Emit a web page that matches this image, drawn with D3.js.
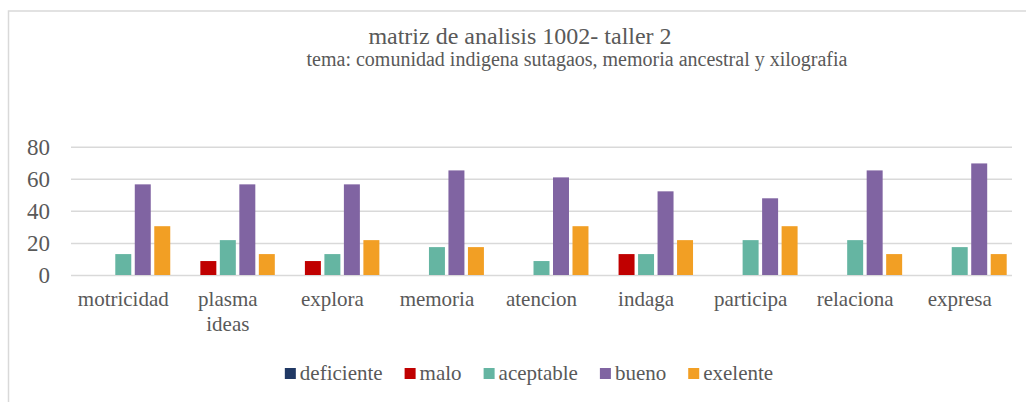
<!DOCTYPE html>
<html>
<head>
<meta charset="utf-8">
<script src="https://cdn.jsdelivr.net/npm/d3@7"></script>
<style>
  html, body { margin: 0; padding: 0; background: #fff; }
  svg { display: block; }
</style>
</head>
<body>
<svg id="chart" width="1026" height="402"></svg>
<script>
const titleLines = ["matriz de analisis 1002- taller 2", "tema: comunidad indigena sutagaos, memoria ancestral y xilografia"];
const categories = ["motricidad", "plasma ideas", "explora", "memoria", "atencion", "indaga", "participa", "relaciona", "expresa"];
const seriesNames = ["deficiente", "malo", "aceptable", "bueno", "exelente"];
const deficiente = [0, 0, 0, 0, 0, 0, 0, 0, 0];
const malo       = [0, 8.7, 8.7, 0, 0, 13.04, 0, 0, 0];
const aceptable  = [13.04, 21.74, 13.04, 17.39, 8.7, 13.04, 21.74, 21.74, 17.39];
const bueno      = [56.52, 56.52, 56.52, 65.22, 60.87, 52.17, 47.83, 65.22, 69.57];
const exelente   = [30.43, 13.04, 21.74, 17.39, 30.43, 21.74, 30.43, 13.04, 13.04];
const yTicks = [0, 20, 40, 60, 80];
const colors = ["#203864", "#c00000", "#65b5a2", "#8064a2", "#f29f24"];

const FONT = "Liberation Serif";
const TXT = "#595959";

const seriesValues = [deficiente, malo, aceptable, bueno, exelente];
const data = categories.map((c, i) => ({
  cat: c,
  vals: seriesNames.map((s, j) => ({ key: s, value: seriesValues[j][i] }))
}));

const svg = d3.select("#chart");
const plot = { left: 71, right: 1012, top: 146.7, bottom: 275 };

function styleText(sel, size) {
  return sel.attr("font-family", FONT).style("font-family", FONT)
    .style("font-size", size + "px").attr("fill", TXT).style("fill", TXT);
}

// chart border
svg.append("rect").attr("x", 8.5).attr("y", 11).attr("width", 1200).attr("height", 600)
  .attr("fill", "none").attr("stroke", "#d9d9d9").attr("stroke-width", 1.5);

// title
styleText(svg.append("text").attr("x", 520).attr("y", 44).attr("text-anchor", "middle"), 24).text(titleLines[0]);
styleText(svg.append("text").attr("x", 577).attr("y", 66).attr("text-anchor", "middle"), 20).text(titleLines[1]);

const x0 = d3.scaleBand().domain(categories).range([plot.left, plot.right]).padding(0);
const groupPad = 5.3;
const x1 = d3.scaleBand().domain(seriesNames)
  .range([groupPad, x0.bandwidth() - groupPad]).paddingInner(0.18).paddingOuter(0);
const y = d3.scaleLinear().domain([0, 80]).range([plot.bottom, plot.top]);

// gridlines + y labels
const yAxis = d3.axisLeft(y).tickValues(yTicks).tickSize(-(plot.right - plot.left)).tickPadding(21);
const gy = svg.append("g").attr("transform", `translate(${plot.left},0)`).call(yAxis);
gy.select(".domain").remove();
gy.selectAll(".tick line").attr("stroke", "#d9d9d9").attr("stroke-width", 1.5);
styleText(gy.selectAll(".tick text"), 23).attr("dy", "0.32em");

// bars
const groups = svg.append("g").selectAll("g").data(data).join("g")
  .attr("transform", d => `translate(${x0(d.cat)},0)`);
groups.selectAll("rect").data(d => d.vals).join("rect")
  .attr("x", d => x1(d.key))
  .attr("width", x1.bandwidth())
  .attr("y", d => y(d.value))
  .attr("height", d => y(0) - y(d.value))
  .attr("fill", (d, i) => colors[i]);

// x axis labels
const xAxis = d3.axisBottom(x0).tickSize(0).tickPadding(0);
const gx = svg.append("g").attr("transform", `translate(0,${plot.bottom})`).call(xAxis);
gx.select(".domain").remove();
styleText(gx.selectAll(".tick text"), 21)
  .attr("y", 31).attr("dy", 0)
  .each(function () {
    const t = d3.select(this);
    const words = t.text().split(/\s+/);
    const maxW = x0.bandwidth();
    t.text(null);
    let line = [];
    let tspan = t.append("tspan").attr("x", 0).attr("dy", 0);
    for (const w of words) {
      line.push(w);
      tspan.text(line.join(" "));
      if (tspan.node().getComputedTextLength() > maxW && line.length > 1) {
        line.pop();
        tspan.text(line.join(" "));
        line = [w];
        tspan = t.append("tspan").attr("x", 0).attr("dy", 25).text(w);
      }
    }
  });

// legend
const legend = svg.append("g");
let lx = 0;
seriesNames.forEach((s, i) => {
  const g = legend.append("g");
  g.append("rect").attr("x", 0).attr("y", -12).attr("width", 11).attr("height", 11).attr("fill", colors[i]);
  const t = styleText(g.append("text").attr("x", 15).attr("y", 0), 21).text(s);
  const w = 15 + t.node().getComputedTextLength();
  g.attr("transform", `translate(${lx},0)`);
  lx += w + 22;
});
const legendW = lx - 22;
legend.attr("transform", `translate(${529 - legendW / 2},380)`);
</script>
</body>
</html>
